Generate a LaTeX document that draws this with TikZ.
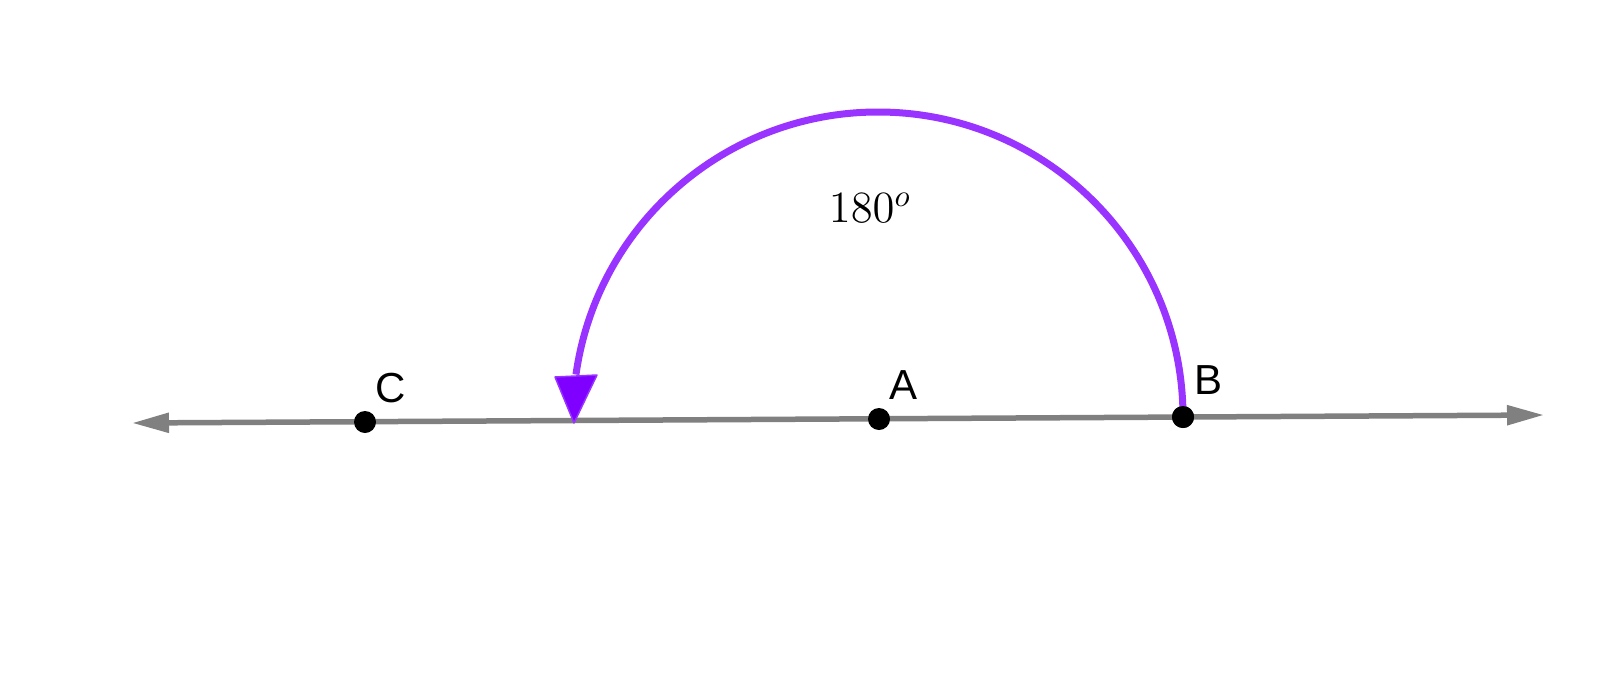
\documentclass[tikz,border=0pt]{standalone}
\usepackage{fontspec}
\newfontfamily\labfont{Liberation Sans}
\usetikzlibrary{arrows.meta}
\definecolor{axisgray}{HTML}{808080}
\definecolor{arcpurple}{HTML}{9933FF}
\definecolor{tippurple}{HTML}{7F00FF}
\tikzset{
  axisline/.style={draw=axisgray, line width=5.5pt},
  dot/.style={circle, fill=black, inner sep=0pt, minimum size=22pt},
  ptlabel/.style={font=\labfont\fontsize{42}{50}\selectfont, inner sep=0pt, text=black},
  anglearc/.style={draw=arcpurple, line width=7pt},
  arctip/.style={fill=tippurple, draw=arcpurple, line width=1.5pt, line join=round},
}
\begin{document}
\begin{tikzpicture}[x=1pt,y=-1pt]
\useasboundingbox (0,0) rectangle (1619,675);
\coordinate (L) at (132,423);
\coordinate (R) at (1544,415);
\draw[axisline, {Triangle[length=37pt,width=19pt]}-{Triangle[length=37pt,width=19pt]}] (L) -- (R);
\node[dot] (C) at (365,422) {};
\node[dot] (A) at (879,419) {};
\node[dot] (B) at (1183,417) {};
\draw[anglearc] (B.center) arc[start angle=0, end angle=-172, radius=305] coordinate (ab);
\coordinate (tl) at (555,377);
\coordinate (tr) at (597,375);
\coordinate (tt) at (574,423);
\path[arctip] (tl) -- (tr) -- (tt) -- cycle;
\node[dot] at (B) {};
\node[ptlabel] (Cl) at (391,388) {C};
\node[ptlabel] (Al) at (903,385) {A};
\node[ptlabel] (Bl) at (1208,380) {B};
\node[font=\Large, scale=3.1, inner sep=0pt] (ang) at (870,208) {$180^o$};
\end{tikzpicture}
\end{document}
